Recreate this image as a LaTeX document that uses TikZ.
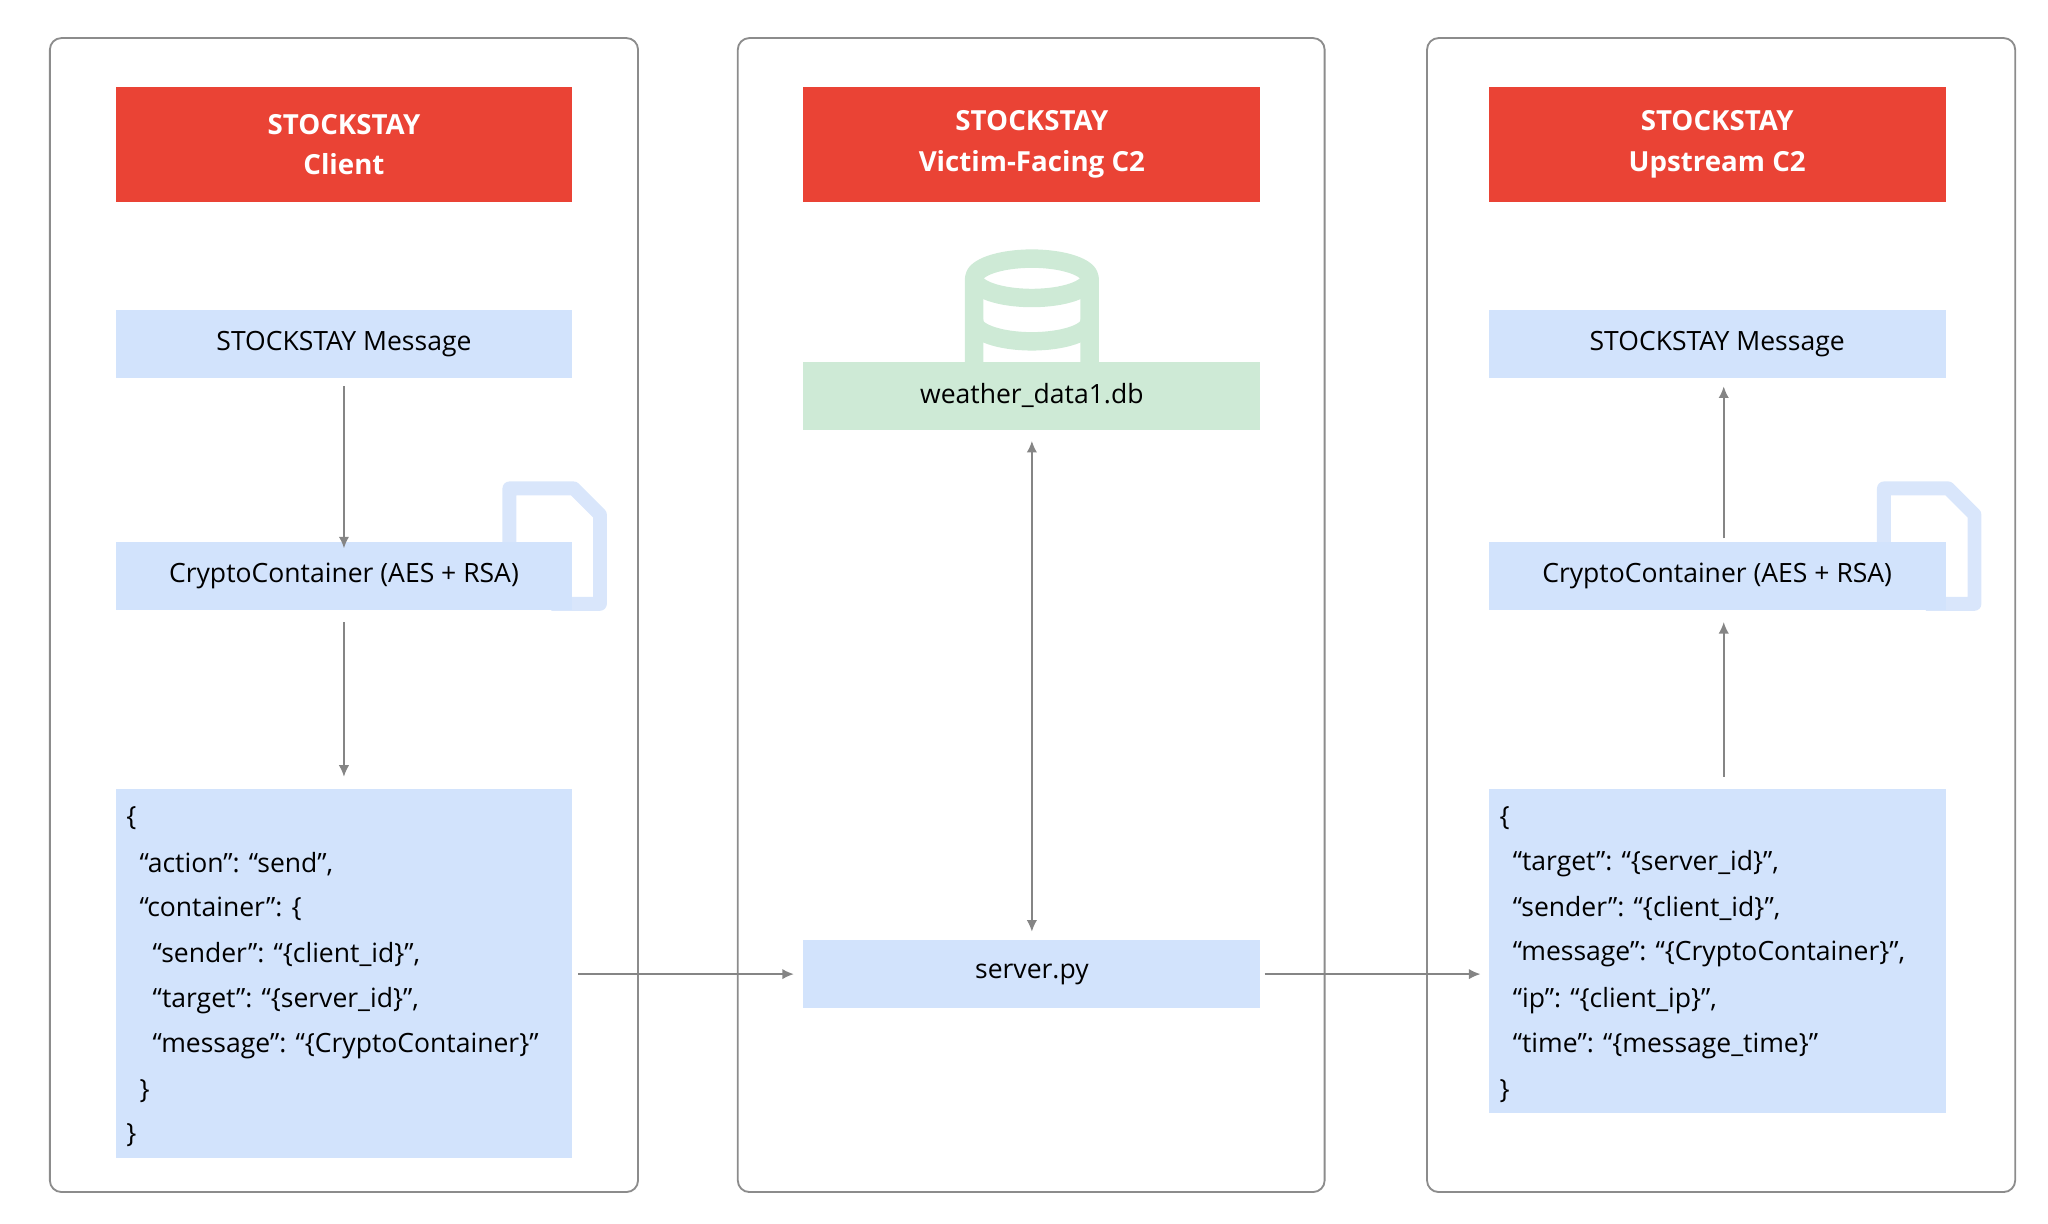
\documentclass[tikz,border=0pt]{standalone}
\usepackage{fontspec}
\setmainfont{Open Sans}
\usetikzlibrary{arrows.meta,positioning}
\definecolor{gred}{HTML}{EA4335}
\definecolor{gblue}{HTML}{D2E3FC}
\definecolor{gicon}{HTML}{D9E6FB}
\definecolor{ggreen}{HTML}{CEEAD6}
\definecolor{garrow}{HTML}{858585}
\begin{document}
\begin{tikzpicture}[x=0.02cm,y=-0.02cm,
  panel/.style={draw=black!45,line width=0.8pt,rounded corners=5pt},
  head/.style={fill=gred,text=white,font=\bfseries\fontsize{12}{17.5}\selectfont,align=center,inner sep=0pt,minimum width=6.96cm,minimum height=1.74cm},
  box/.style={fill=gblue,font=\fontsize{11.5}{14}\selectfont,inner sep=0pt,minimum width=6.96cm,minimum height=1.04cm},
  line/.style={font=\fontsize{11.5}{14}\selectfont,anchor=west,inner sep=0pt},
  arr/.style={draw=garrow,line width=0.7pt,-{Latex[length=5pt,width=4.5pt]}},
  icon/.style={draw=gicon,line width=6pt,line join=round}]

\useasboundingbox (0,0) rectangle (1560,932);

% panels
\draw[panel] (38,29) rectangle (486,908);
\draw[panel] (562,29) rectangle (1009,908);
\draw[panel] (1087,29) rectangle (1535,908);

\node[head] (h1) at (262,110) {STOCKSTAY\\Client};
\node[head] (h2) at (786,110) {STOCKSTAY\\Victim-Facing C2};
\node[head] (h3) at (1308,110) {STOCKSTAY\\Upstream C2};

% icons behind the boxes
\draw[icon] (388,440) -- (388,372) -- (437,372) -- (457,392) -- (457,460) -- (420,460);
\draw[icon] (1435,440) -- (1435,372) -- (1484,372) -- (1504,392) -- (1504,460) -- (1467,460);
\begin{scope}[icon,draw=ggreen,line width=8pt]
  \draw (742,280) -- (742,212) arc[start angle=180,end angle=360,x radius=44,y radius=15] -- (830,280);
  \draw (742,212) arc[start angle=180,end angle=0,x radius=44,y radius=15];
  \draw (742,245) arc[start angle=180,end angle=0,x radius=44,y radius=15];
\end{scope}

% left column
\node[box] (msg1) at (262,262) {STOCKSTAY Message};
\node[box] (cc1) at (262,438.5) {CryptoContainer (AES + RSA)};
\node[box,minimum height=5.62cm] (js1) at (262,741.5) {};
\node[line] at (96,623) {\{};
\node[line] at (106,658) {“action”: “send”,};
\node[line] at (106,692) {“container”: \{};
\node[line] at (116,727) {“sender”: “\{client\_id\}”,};
\node[line] at (116,762) {“target”: “\{server\_id\}”,};
\node[line] at (116,797) {“message”: “\{CryptoContainer\}”};
\node[line] at (106,831) {\}};
\node[line] at (96,865) {\}};

% middle column
\node[box,fill=ggreen] (db) at (786,301.5) {weather\_data1.db};
\node[box] (srv) at (786,742) {server.py};

% right column
\node[box] (msg3) at (1308,262) {STOCKSTAY Message};
\node[box] (cc3) at (1308,438.5) {CryptoContainer (AES + RSA)};
\node[box,minimum height=4.94cm] (js3) at (1308,724.5) {};
\node[line] at (1142,623) {\{};
\node[line] at (1152,658) {“target”: “\{server\_id\}”,};
\node[line] at (1152,692) {“sender”: “\{client\_id\}”,};
\node[line] at (1152,727) {“message”: “\{CryptoContainer\}”,};
\node[line] at (1152,762) {“ip”: “\{client\_ip\}”,};
\node[line] at (1152,797) {“time”: “\{message\_time\}”};
\node[line] at (1142,831) {\}};

% connectors
\draw[arr] (msg1.south) ++(0,6) -- ([yshift=-0.11cm]cc1.north);
\draw[arr] ([yshift=-0.18cm]cc1.south) -- ([yshift=0.18cm]js1.north);
\draw[arr,{Latex[length=5pt,width=4.5pt]}-{Latex[length=5pt,width=4.5pt]}] ([yshift=-0.16cm]db.south) -- ([yshift=0.12cm]srv.north);
\draw[arr] ([xshift=0.08cm]js1.east |- srv) -- ([xshift=-0.14cm]srv.west);
\draw[arr] ([xshift=0.06cm]srv.east) -- ([xshift=-0.12cm]js3.west |- srv);
\draw[arr] ([xshift=0.1cm,yshift=0.18cm]js3.north) -- ([xshift=0.1cm,yshift=-0.18cm]cc3.south);
\draw[arr] ([xshift=0.1cm,yshift=0.04cm]cc3.north) -- ([xshift=0.1cm,yshift=-0.12cm]msg3.south);
\end{tikzpicture}
\end{document}
